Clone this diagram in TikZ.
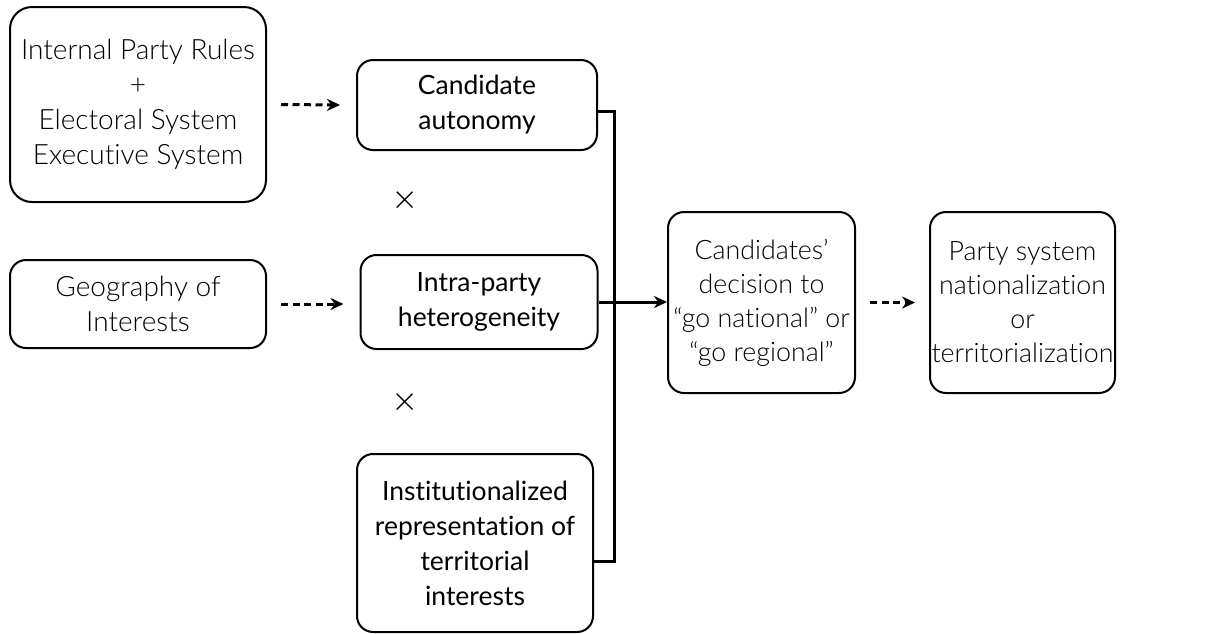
\documentclass[tikz,border=0pt]{standalone}
\usepackage{fontspec}
\setmainfont{Lato Light}[Ligatures=NoCommon]
\newfontfamily\regfont{Lato}[Ligatures=NoCommon]
\usetikzlibrary{arrows.meta}
\tikzset{
  box/.style={draw, line width=2pt, rounded corners=16pt, align=center, inner sep=0pt, font=\fontsize{28}{35}\selectfont},
  narrowbox/.style={box, font=\fontsize{26.8}{34}\selectfont},
  boldbox/.style={box, font=\fontsize{26.5}{35}\selectfont\regfont},
  dasharrow/.style={line width=3pt, dash pattern=on 7pt off 4.5pt, -{Stealth[length=13pt,width=12pt]}},
  solidarrow/.style={line width=3pt, -{Stealth[length=13pt,width=12pt]}},
  bar/.style={line width=3pt},
  times/.style={font=\fontsize{40}{40}\selectfont, inner sep=0pt}
}
\begin{document}
\begin{tikzpicture}[x=1pt,y=-1pt]
\useasboundingbox (0,0) rectangle (1214,633);
\node[box, minimum width=256pt, minimum height=195pt, rounded corners=22pt] (rules) at (138,104.5) {Internal Party Rules\\+\\Electoral System\\Executive System};
\node[box, minimum width=256pt, minimum height=88pt] (geo) at (138,304) {Geography of\\Interests};
\node[boldbox, minimum width=240pt, minimum height=90pt] (cand) at (477,105) {Candidate\\autonomy};
\node[boldbox, minimum width=237pt, minimum height=94pt] (intra) at (479,302) {Intra-party\\heterogeneity};
\node[boldbox, minimum width=236pt, minimum height=178pt] (inst) at (475,543) {Institutionalized\\representation of\\territorial\\interests};
\node[narrowbox, minimum width=187pt, minimum height=181pt] (dec) at (761.5,302.5) {Candidates'\\decision to\\``go national'' or\\``go regional''};
\node[narrowbox, minimum width=185pt, minimum height=181pt] (party) at (1022.5,302.5) {Party system\\nationalization\\or\\territorialization};
\node[times] (x1) at (405,203) {×};
\node[times] (x2) at (405,405) {×};
\coordinate (bt) at (614,111);
\coordinate (bb) at (614,561);
\draw[dasharrow] ([xshift=14pt]rules.east) -- ([xshift=-16pt]cand.west);
\draw[dasharrow] ([xshift=14pt]geo.east) -- ([xshift=-16pt]intra.west |- geo.east);
\draw[dasharrow] ([xshift=14pt]dec.east) -- ([xshift=-14pt]party.west);
\draw[bar] ([yshift=-6pt]cand.east) -- (bt) -- (bb) -- ([yshift=-18pt]inst.east);
\draw[solidarrow] (intra.east) -- (dec.west |- intra.east);
\end{tikzpicture}
\end{document}
